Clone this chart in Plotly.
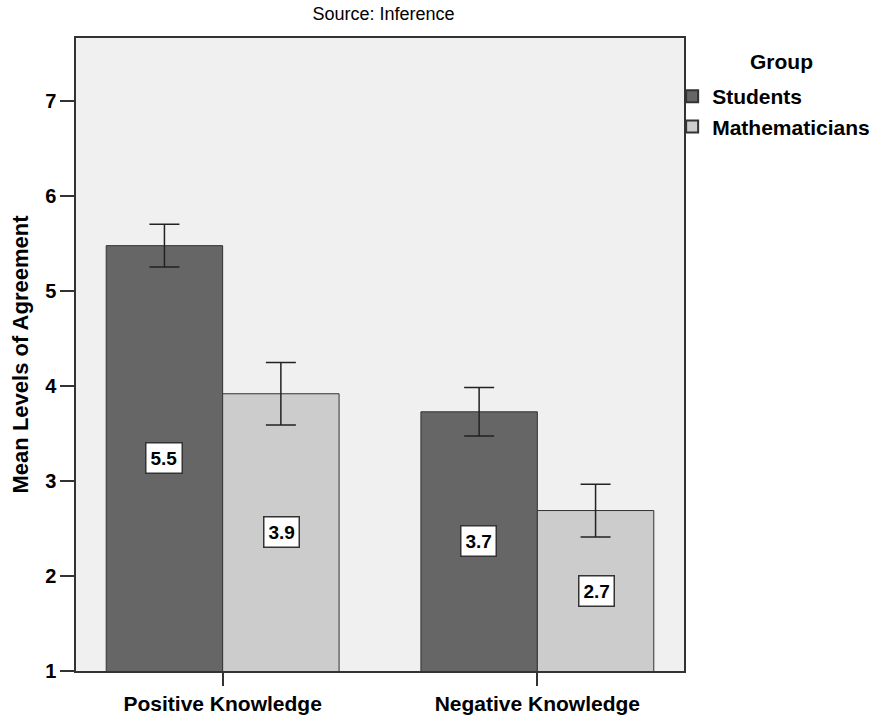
import plotly.graph_objects as go

categories = ["Positive Knowledge", "Negative Knowledge"]
groups = ["Students", "Mathematicians"]
students_mean = [5.48, 3.73]
students_err = [0.225, 0.255]
math_mean = [3.92, 2.69]
math_err = [0.33, 0.278]
y_ticks = [1, 2, 3, 4, 5, 6, 7]

series = [
    (groups[0], students_mean, students_err, "#666666", -59),
    (groups[1], math_mean, math_err, "#CCCCCC", 59),
]

font_family = "Liberation Sans, Arial, sans-serif"
fig = go.Figure()
annotations = []
for name, vals, errs, color, shift in series:
    fig.add_trace(go.Bar(
        x=categories, y=vals, name=name,
        marker=dict(color=color, line=dict(color="#333333", width=1)),
        error_y=dict(type="data", array=errs, visible=True,
                     color="#222222", thickness=1.5, width=15),
    ))
    for c, v in zip(categories, vals):
        annotations.append(dict(
            x=c, y=(1 + v) / 2, xref="x", yref="y", xshift=shift,
            text=f"{v:.1f}", showarrow=False,
            font=dict(family=font_family, size=19, color="#000000", weight="bold"),
            bgcolor="#FFFFFF", bordercolor="#333333", borderwidth=1.5, borderpad=4,
        ))

annotations.append(dict(
    x=(790 - 76) / 615, y=(686 - 62) / 648, xref="paper", yref="paper",
    text="Group", showarrow=False, xanchor="center", yanchor="middle",
    font=dict(family=font_family, size=21, color="#000000", weight="bold"),
))

fig.update_layout(
    width=887, height=727,
    margin=dict(l=76, r=196, t=38, b=41),
    paper_bgcolor="#FFFFFF", plot_bgcolor="#F0F0F0",
    barmode="group", bargap=0.26, bargroupgap=0,
    font=dict(family=font_family, color="#000000"),
    title=dict(text="Source: Inference", x=(76 + 615 / 2) / 887, xanchor="center",
               y=1 - 14 / 727, yanchor="middle",
               font=dict(size=18, family=font_family, color="#000000")),
    xaxis=dict(
        range=[-0.466, 1.466], showgrid=False, zeroline=False,
        showline=True, linecolor="#333333", linewidth=1.5, mirror=True,
        ticks="outside", ticklen=13, tickwidth=1.5, tickcolor="#333333",
        tickfont=dict(size=21, weight="bold", family=font_family),
    ),
    yaxis=dict(
        range=[1, 7.667], tickvals=y_ticks, showgrid=False, zeroline=False,
        showline=True, linecolor="#333333", linewidth=1.5, mirror=True,
        ticks="outside", ticklen=14, tickwidth=1.5, tickcolor="#333333",
        tickfont=dict(size=20, weight="bold", family=font_family),
        title=dict(text="Mean Levels of Agreement", standoff=10,
                   font=dict(size=22, weight="bold", family=font_family)),
    ),
    legend=dict(
        x=1 - 12 / 615, xanchor="left", y=(686 - 77) / 648, yanchor="top",
        bgcolor="rgba(0,0,0,0)", font=dict(size=21, weight="bold", family=font_family),
        tracegroupgap=0, itemsizing="constant",
    ),
    annotations=annotations,
)

fig.write_html("out.html", config={"displayModeBar": False},
               post_script="document.body.style.margin='0px';")
